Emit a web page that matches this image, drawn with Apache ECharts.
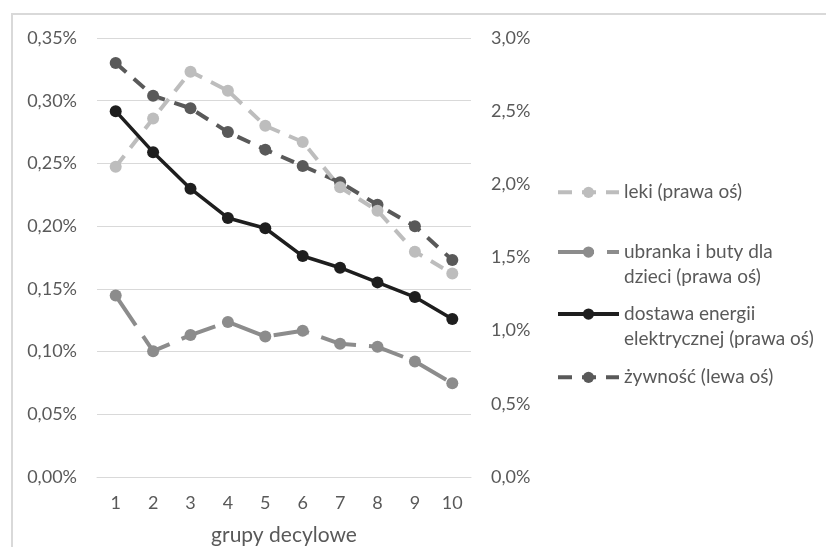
<!DOCTYPE html>
<html>
<head>
<meta charset="utf-8">
<script src="https://cdn.jsdelivr.net/npm/echarts@6/dist/echarts.min.js"></script>
<style>
  html, body { margin: 0; padding: 0; background: #ffffff; }
  #chart { width: 826px; height: 547px; }
</style>
</head>
<body>
<div id="chart"></div>
<script>
// Deciles of household income
const categories = ['1', '2', '3', '4', '5', '6', '7', '8', '9', '10'];

// Shares of spending, in percent
const zywnosc = [0.330, 0.304, 0.294, 0.275, 0.261, 0.248, 0.235, 0.217, 0.200, 0.173]; // left axis
const leki = [2.12, 2.45, 2.77, 2.64, 2.40, 2.29, 1.98, 1.82, 1.54, 1.39];           // right axis
const ubranka = [1.24, 0.86, 0.97, 1.06, 0.96, 1.00, 0.91, 0.89, 0.79, 0.64];        // right axis
const energia = [2.50, 2.22, 1.97, 1.77, 1.70, 1.51, 1.43, 1.33, 1.23, 1.08];        // right axis

const names = {
  leki: 'leki (prawa oś)',
  ubranka: 'ubranka i buty dla\ndzieci (prawa oś)',
  energia: 'dostawa energii\nelektrycznej (prawa oś)',
  zywnosc: 'żywność (lewa oś)'
};

const FONT = 'Lato';
const TEXT = '#595959';
const GRID = '#d9d9d9';
const LH = 24.7;

function pct(v, digits) {
  return v.toFixed(digits).replace('.', ',') + '%';
}

// One legend per entry; two-line entries get an empty first line so the
// marker sits beside the first line of text.
function legendAt(name, top, twoLines) {
  return {
    data: [name],
    left: 556,
    top: top,
    padding: 0,
    itemWidth: 61,
    itemHeight: 14,
    itemGap: 0,
    lineStyle: { width: 4 },
    formatter: n => (twoLines ? '\n' + n : n),
    textStyle: {
      fontFamily: FONT,
      fontSize: 19,
      color: TEXT,
      lineHeight: LH
    }
  };
}

const chart = echarts.init(document.getElementById('chart'), null, { renderer: 'canvas' });

chart.setOption({
  animation: false,
  backgroundColor: '#ffffff',
  graphic: [{
    type: 'rect',
    shape: { x: 12, y: 14, width: 1000, height: 1000 },
    style: { fill: 'none', stroke: GRID, lineWidth: 2 },
    silent: true
  }],
  grid: { left: 97, right: 355, top: 38, bottom: 70, outerBoundsMode: 'none', containLabel: false },
  legend: [
    legendAt(names.leki, 180, false),
    legendAt(names.ubranka, 215, true),
    legendAt(names.energia, 277, true),
    legendAt(names.zywnosc, 365, false)
  ],
  xAxis: {
    type: 'category',
    data: categories,
    boundaryGap: true,
    name: 'grupy decylowe',
    nameLocation: 'middle',
    nameGap: 48,
    nameTextStyle: { fontFamily: FONT, fontSize: 21, color: TEXT },
    axisLine: { show: true, lineStyle: { color: GRID, width: 1 } },
    axisTick: { show: false },
    axisLabel: { fontFamily: FONT, fontSize: 18, color: TEXT, margin: 17 }
  },
  yAxis: [{
    type: 'value',
    min: 0, max: 0.35, interval: 0.05,
    axisLine: { show: false },
    axisTick: { show: false },
    splitLine: { lineStyle: { color: GRID, width: 1 } },
    axisLabel: {
      fontFamily: FONT, fontSize: 18, color: TEXT, margin: 20,
      formatter: v => pct(v, 2)
    }
  }, {
    type: 'value',
    min: 0, max: 3, interval: 0.5,
    position: 'right',
    axisLine: { show: false },
    axisTick: { show: false },
    splitLine: { show: false },
    axisLabel: {
      fontFamily: FONT, fontSize: 18, color: TEXT, margin: 20,
      formatter: v => pct(v, 1)
    }
  }],
  series: [{
    name: names.zywnosc,
    type: 'line',
    yAxisIndex: 0,
    data: zywnosc,
    symbol: 'circle', symbolSize: 12,
    itemStyle: { color: '#595959' },
    lineStyle: { color: '#595959', width: 4, type: [14, 10] },
    z: 2
  }, {
    name: names.leki,
    type: 'line',
    yAxisIndex: 1,
    data: leki,
    symbol: 'circle', symbolSize: 12,
    itemStyle: { color: '#bdbdbd' },
    lineStyle: { color: '#bdbdbd', width: 4, type: [14, 10] },
    z: 3
  }, {
    name: names.ubranka,
    type: 'line',
    yAxisIndex: 1,
    data: ubranka,
    symbol: 'circle', symbolSize: 12,
    itemStyle: { color: '#8c8c8c' },
    lineStyle: { color: '#8c8c8c', width: 4, type: [36, 13] },
    z: 4
  }, {
    name: names.energia,
    type: 'line',
    yAxisIndex: 1,
    data: energia,
    symbol: 'circle', symbolSize: 12,
    itemStyle: { color: '#1e1e1e' },
    lineStyle: { color: '#1e1e1e', width: 3.5, type: 'solid' },
    z: 5
  }]
});
</script>
</body>
</html>
